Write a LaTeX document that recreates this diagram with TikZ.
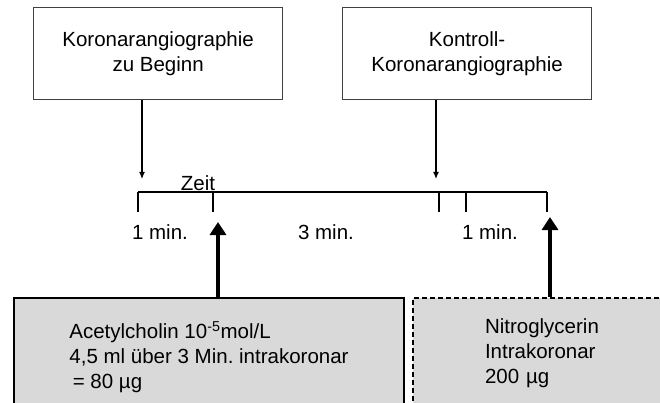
\documentclass[tikz,border=0pt]{standalone}
\usepackage{fontspec}
\setmainfont{Liberation Sans}
\usetikzlibrary{arrows.meta,positioning}
\tikzset{>={Latex[width=6pt,length=7pt]}}
\definecolor{boxgray}{HTML}{D9D9D9}
\tikzset{
  angio/.style={draw=black!75, line width=1.2pt, fill=white, align=center,
    minimum width=249pt, minimum height=92pt, inner sep=0pt, anchor=north west},
  dose/.style={draw=black, line width=2pt, fill=boxgray, align=left,
    inner ysep=0pt, anchor=north west},
  gabe/.style={line width=4pt, -{Triangle[width=16pt,length=13pt]}},
  zeitlinie/.style={line width=1.2pt},
}

\begin{document}
\frenchspacing
\begin{tikzpicture}[x=1pt, y=-1pt, font=\fontsize{20.5pt}{25pt}\selectfont]

  \useasboundingbox (0,0) rectangle (660,403);
  \clip (0,0) rectangle (660,403);

  %% angiography boxes
  \node[angio] (kag1) at (33,7) {Koronarangiographie\\zu Beginn};
  \node[angio] (kag2) at (342,7) {Kontroll-\\Koronarangiographie};

  %% time axis
  \coordinate (t0) at (138,192);
  \coordinate (t1) at (213,192);
  \coordinate (t2) at (439,192);
  \coordinate (t3) at (466,192);
  \coordinate (t4) at (547,192);
  \draw[zeitlinie] (t0) -- (t4);
  \foreach \t in {t0,t1,t2,t3,t4}
    \draw[zeitlinie] (\t) -- ++(0,20);

  \node[anchor=base] (zeit) at (198,190) {Zeit};
  \node[anchor=base] (m1) at (160,239) {1 min.};
  \node[anchor=base] (m3) at (326,239) {3 min.};
  \node[anchor=base] (m1b) at (490,239) {1 min.};

  %% arrows into the axis
  \coordinate (e1) at (142,179);
  \coordinate (e2) at (436,179);
  \draw[->, line width=1.2pt] (kag1.south -| e1) -- (e1);
  \draw[->, line width=1.2pt] (kag2.south -| e2) -- (e2);

  %% dose boxes
  \node[dose, minimum width=390pt, minimum height=118pt, inner xsep=4pt] (ach) at (13,297)
    {Acetylcholin 10\textsuperscript{-5}mol/L\\
     4,5 ml über 3 Min. intrakoronar\\
     \,= 80 µg};
  \node[dose, dash pattern=on 5pt off 3pt, minimum width=300pt,
    minimum height=110pt, inner xsep=72pt, text width=156pt] (nitro) at (412,297)
    {Nitroglycerin\\Intrakoronar\\200 µg};

  \coordinate (d1) at (218,222);
  \coordinate (d2) at (550,217);
  \draw[gabe] (ach.north -| d1) -- (d1);
  \draw[gabe] (nitro.north -| d2) -- (d2);

\end{tikzpicture}
\end{document}
